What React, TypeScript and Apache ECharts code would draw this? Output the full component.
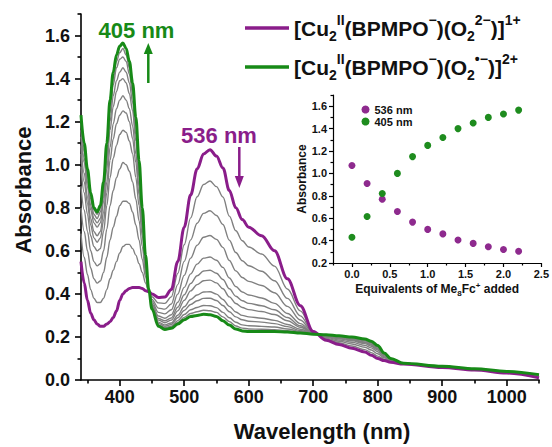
import React, { useEffect, useRef } from "react";
import * as echarts from "echarts";

const FONT = '"Liberation Sans", Arial, Helvetica, sans-serif';
const PURPLE = "#8A1D8A";
const GREEN = "#178A17";
const GRAY = "#808080";

// Wavelength grid (nm)
const wavelengthNm = [
  340, 345, 350, 355, 360, 365, 370, 375, 380, 385, 390, 395, 400, 405, 410, 415, 420, 425, 430, 435, 440, 445, 450,
  460, 470, 480, 490, 500, 510, 520, 530, 540, 550, 560, 570, 580, 590, 600,
  620, 640, 660, 680, 700, 720, 740, 760, 780,
  790, 800, 810, 820, 840,
  900, 950, 1000, 1050,
];

// Spectra after each addition of Me8Fc+ (equivalents 0.0 ... 2.2)
const absEq00 = [
  0.55, 0.45, 0.37, 0.31, 0.28, 0.26, 0.25, 0.25, 0.26, 0.27, 0.29, 0.32, 0.37, 0.40, 0.415, 0.425, 0.43, 0.43, 0.43, 0.425, 0.415, 0.41, 0.40,
  0.383, 0.385, 0.42, 0.55, 0.71, 0.86, 0.98, 1.05, 1.07, 1.04, 0.985, 0.88, 0.80, 0.745, 0.71,
  0.67, 0.60, 0.47, 0.345, 0.225, 0.185, 0.165, 0.148, 0.13,
  0.115, 0.10, 0.09, 0.082, 0.074,
  0.058, 0.046, 0.032, 0.01,
];
const absEq02 = [
  0.68, 0.57, 0.49, 0.42, 0.38, 0.36, 0.36, 0.38, 0.42, 0.47, 0.51, 0.55, 0.59, 0.62, 0.63, 0.63, 0.61, 0.58, 0.54, 0.50, 0.45, 0.41, 0.387,
  0.358, 0.356, 0.386, 0.495, 0.628, 0.753, 0.851, 0.908, 0.924, 0.898, 0.85, 0.761, 0.693, 0.647, 0.618,
  0.585, 0.529, 0.423, 0.321, 0.223, 0.19, 0.173, 0.158, 0.141,
  0.127, 0.111, 0.097, 0.085, 0.075,
  0.059, 0.047, 0.034, 0.013,
];
const absEq04 = [
  0.80, 0.69, 0.60, 0.52, 0.47, 0.45, 0.46, 0.50, 0.57, 0.65, 0.71, 0.76, 0.81, 0.83, 0.83, 0.82, 0.78, 0.72, 0.65, 0.56, 0.48, 0.41, 0.374,
  0.334, 0.329, 0.353, 0.443, 0.551, 0.651, 0.728, 0.774, 0.786, 0.764, 0.722, 0.649, 0.592, 0.554, 0.531,
  0.505, 0.461, 0.379, 0.298, 0.221, 0.194, 0.18, 0.167, 0.152,
  0.139, 0.122, 0.103, 0.089, 0.075,
  0.06, 0.048, 0.035, 0.016,
];
const absEq06 = [
  0.90, 0.79, 0.69, 0.60, 0.55, 0.53, 0.54, 0.60, 0.70, 0.81, 0.88, 0.94, 0.98, 1.01, 1.00, 0.97, 0.92, 0.84, 0.74, 0.62, 0.50, 0.42, 0.364,
  0.314, 0.307, 0.326, 0.399, 0.486, 0.566, 0.626, 0.663, 0.671, 0.653, 0.616, 0.555, 0.507, 0.476, 0.458,
  0.439, 0.405, 0.342, 0.279, 0.219, 0.198, 0.186, 0.175, 0.161,
  0.149, 0.131, 0.108, 0.091, 0.076,
  0.061, 0.049, 0.036, 0.018,
];
const absEq08 = [
  0.99, 0.87, 0.77, 0.67, 0.62, 0.60, 0.61, 0.69, 0.81, 0.94, 1.03, 1.09, 1.14, 1.16, 1.15, 1.11, 1.05, 0.94, 0.81, 0.67, 0.52, 0.42, 0.354,
  0.297, 0.287, 0.303, 0.361, 0.43, 0.493, 0.538, 0.566, 0.571, 0.556, 0.523, 0.474, 0.434, 0.409, 0.395,
  0.381, 0.356, 0.309, 0.262, 0.217, 0.201, 0.191, 0.182, 0.169,
  0.157, 0.139, 0.113, 0.094, 0.077,
  0.062, 0.05, 0.037, 0.02,
];
const absEq10 = [
  1.05, 0.92, 0.82, 0.72, 0.66, 0.64, 0.66, 0.74, 0.87, 1.02, 1.12, 1.19, 1.23, 1.25, 1.24, 1.20, 1.12, 1.01, 0.86, 0.70, 0.54, 0.42, 0.349,
  0.286, 0.275, 0.288, 0.338, 0.396, 0.448, 0.484, 0.506, 0.51, 0.496, 0.467, 0.424, 0.389, 0.368, 0.356,
  0.345, 0.326, 0.29, 0.252, 0.216, 0.203, 0.194, 0.186, 0.174,
  0.162, 0.144, 0.116, 0.095, 0.077,
  0.062, 0.05, 0.038, 0.021,
];
const absEq12 = [
  1.09, 0.96, 0.85, 0.75, 0.69, 0.67, 0.69, 0.78, 0.92, 1.08, 1.19, 1.26, 1.30, 1.32, 1.30, 1.26, 1.18, 1.05, 0.90, 0.72, 0.55, 0.42, 0.345,
  0.278, 0.266, 0.278, 0.321, 0.37, 0.414, 0.443, 0.461, 0.464, 0.451, 0.424, 0.386, 0.355, 0.337, 0.327,
  0.318, 0.304, 0.275, 0.245, 0.216, 0.205, 0.197, 0.189, 0.177,
  0.166, 0.147, 0.118, 0.096, 0.077,
  0.063, 0.051, 0.038, 0.022,
];
const absEq14 = [
  1.13, 1.01, 0.90, 0.79, 0.73, 0.71, 0.73, 0.83, 0.98, 1.16, 1.27, 1.34, 1.39, 1.40, 1.38, 1.33, 1.25, 1.11, 0.94, 0.75, 0.56, 0.42, 0.34,
  0.269, 0.256, 0.265, 0.301, 0.34, 0.374, 0.395, 0.409, 0.41, 0.399, 0.374, 0.342, 0.316, 0.30, 0.293,
  0.287, 0.277, 0.258, 0.236, 0.215, 0.207, 0.199, 0.193, 0.182,
  0.171, 0.152, 0.12, 0.097, 0.077,
  0.063, 0.051, 0.039, 0.023,
];
const absEq16 = [
  1.16, 1.03, 0.92, 0.81, 0.75, 0.73, 0.75, 0.85, 1.02, 1.20, 1.32, 1.39, 1.43, 1.45, 1.43, 1.38, 1.29, 1.14, 0.96, 0.76, 0.56, 0.42, 0.337,
  0.263, 0.25, 0.258, 0.289, 0.323, 0.351, 0.368, 0.379, 0.38, 0.369, 0.346, 0.317, 0.293, 0.28, 0.273,
  0.269, 0.262, 0.248, 0.23, 0.214, 0.208, 0.201, 0.195, 0.184,
  0.174, 0.154, 0.122, 0.098, 0.078,
  0.063, 0.051, 0.039, 0.024,
];
const absEq18 = [
  1.19, 1.06, 0.95, 0.84, 0.77, 0.75, 0.78, 0.88, 1.05, 1.24, 1.37, 1.45, 1.49, 1.50, 1.48, 1.42, 1.33, 1.18, 0.99, 0.78, 0.57, 0.42, 0.334,
  0.257, 0.243, 0.25, 0.276, 0.304, 0.326, 0.337, 0.346, 0.345, 0.336, 0.314, 0.289, 0.268, 0.256, 0.252,
  0.249, 0.246, 0.237, 0.225, 0.214, 0.209, 0.203, 0.197, 0.187,
  0.176, 0.157, 0.123, 0.099, 0.078,
  0.064, 0.052, 0.04, 0.024,
];
const absEq20 = [
  1.21, 1.08, 0.97, 0.86, 0.79, 0.77, 0.80, 0.90, 1.08, 1.27, 1.40, 1.48, 1.52, 1.54, 1.51, 1.45, 1.36, 1.20, 1.01, 0.79, 0.58, 0.42, 0.332,
  0.253, 0.239, 0.245, 0.267, 0.291, 0.309, 0.317, 0.324, 0.322, 0.314, 0.293, 0.271, 0.251, 0.241, 0.237,
  0.236, 0.234, 0.229, 0.221, 0.213, 0.209, 0.204, 0.199, 0.189,
  0.178, 0.159, 0.124, 0.10, 0.078,
  0.064, 0.052, 0.04, 0.025,
];
const absEq22 = [
  1.23, 1.10, 0.98, 0.87, 0.80, 0.78, 0.81, 0.92, 1.10, 1.30, 1.43, 1.51, 1.55, 1.565, 1.54, 1.48, 1.38, 1.22, 1.02, 0.80, 0.58, 0.42, 0.33,
  0.25, 0.235, 0.24, 0.26, 0.28, 0.295, 0.30, 0.305, 0.303, 0.295, 0.275, 0.255, 0.237, 0.228, 0.225,
  0.225, 0.225, 0.223, 0.218, 0.213, 0.21, 0.205, 0.20, 0.19,
  0.18, 0.16, 0.125, 0.10, 0.078,
  0.064, 0.052, 0.04, 0.025,
];
const intermediateSpectra = [absEq02, absEq04, absEq06, absEq08, absEq10, absEq12, absEq14, absEq16, absEq18, absEq20];

// Inset: absorbance vs equivalents
const equivalentsAdded = [0, 0.2, 0.4, 0.6, 0.8, 1.0, 1.2, 1.4, 1.6, 1.8, 2.0, 2.2];
const abs536 = [1.07, 0.91, 0.77, 0.66, 0.565, 0.5, 0.46, 0.405, 0.375, 0.345, 0.32, 0.305];
const abs405 = [0.43, 0.615, 0.82, 1.0, 1.15, 1.25, 1.32, 1.4, 1.45, 1.5, 1.53, 1.565];

// Tick values
const mainXMajor = [400, 500, 600, 700, 800, 900, 1000];
const mainXMinor = [350, 450, 550, 650, 750, 850, 950, 1050];
const mainYMajor = [0, 0.2, 0.4, 0.6, 0.8, 1.0, 1.2, 1.4, 1.6];
const mainYMinor = [0.1, 0.3, 0.5, 0.7, 0.9, 1.1, 1.3, 1.5, 1.7];
const insetXMajor = [0, 0.5, 1.0, 1.5, 2.0, 2.5];
const insetXMinor = [-0.25, 0.25, 0.75, 1.25, 1.75, 2.25];
const insetYMajor = [0.2, 0.4, 0.6, 0.8, 1.0, 1.2, 1.4, 1.6];
const insetYMinor = [0.3, 0.5, 0.7, 0.9, 1.1, 1.3, 1.5, 1.7];

const PURPLE_NAME = "[Cu2II(BPMPO−)(O22−)]1+";
const GREEN_NAME = "[Cu2II(BPMPO−)(O2•−)]2+";
const legendRichText: Record<string, string> = {
  [PURPLE_NAME]: "{m|[Cu}{b|2}{p|II}{m|(BPMPO}{p|−}{m|)(O}{b|2}{p|2−}{m|)]}{p|1+}",
  [GREEN_NAME]: "{m|[Cu}{b|2}{p|II}{m|(BPMPO}{p|−}{m|)(O}{b|2}{p|•−}{m|)]}{p|2+}",
};

function axisPair(
  dim: "x" | "y",
  gridIndex: number,
  min: number,
  max: number,
  major: number[],
  minor: number[],
  o: {
    majorLen: number;
    minorLen: number;
    lineWidth: number;
    labelSize: number;
    labelMargin: number;
    digits: number;
    name?: string;
    nameGap?: number;
    nameStyle?: any;
  }
) {
  const position = dim === "x" ? "bottom" : "left";
  const lineStyle = { color: "#000", width: o.lineWidth };
  const majorAxis: any = {
    type: "value",
    gridIndex,
    min,
    max,
    position,
    offset: 0,
    axisLine: { show: true, onZero: false, lineStyle },
    axisTick: { show: true, customValues: major, length: o.majorLen, lineStyle },
    axisLabel: {
      customValues: major,
      formatter: (v: number) => v.toFixed(o.digits),
      fontSize: o.labelSize,
      fontWeight: "bold",
      fontFamily: FONT,
      color: "#111",
      margin: o.labelMargin,
    },
    splitLine: { show: false },
    minorTick: { show: false },
  };
  if (o.name) {
    majorAxis.name = o.name;
    majorAxis.nameLocation = "middle";
    majorAxis.nameGap = o.nameGap;
    majorAxis.nameTextStyle = o.nameStyle;
  }
  const minorAxis: any = {
    type: "value",
    gridIndex,
    min,
    max,
    position,
    offset: 0,
    axisLine: { show: false, onZero: false },
    axisTick: { show: true, customValues: minor, length: o.minorLen, lineStyle },
    axisLabel: { show: false },
    splitLine: { show: false },
  };
  return [majorAxis, minorAxis];
}

export default function App() {
  const ref = useRef<HTMLDivElement>(null);

  useEffect(() => {
    if (!ref.current) return;
    const chart = echarts.init(ref.current, null, { renderer: "svg" });

    const toPairs = (ys: number[]) => wavelengthNm.map((w, i) => [w, ys[i]]);

    const grayLines = intermediateSpectra.map((ys, k) => ({
      type: "line",
      name: "step" + (k + 1),
      xAxisIndex: 0,
      yAxisIndex: 0,
      data: toPairs(ys),
      showSymbol: false,
      smooth: 0.35,
      smoothMonotone: "x",
      lineStyle: { color: GRAY, width: 1.4 },
      itemStyle: { color: GRAY },
      z: 2,
      silent: true,
    }));

    const mainX = axisPair("x", 0, 340, 1050, mainXMajor, mainXMinor, {
      majorLen: 6,
      minorLen: 3.5,
      lineWidth: 1.6,
      labelSize: 18,
      labelMargin: 8,
      digits: 0,
      name: "Wavelength (nm)",
      nameGap: 40,
      nameStyle: { fontSize: 22, fontWeight: "bold", fontFamily: FONT, color: "#111", padding: [0, 0, 0, 24] },
    });
    const mainY = axisPair("y", 0, 0, 1.7, mainYMajor, mainYMinor, {
      majorLen: 6,
      minorLen: 3.5,
      lineWidth: 1.6,
      labelSize: 18,
      labelMargin: 11,
      digits: 1,
      name: "Absorbance",
      nameGap: 47,
      nameStyle: { fontSize: 22, fontWeight: "bold", fontFamily: FONT, color: "#111", padding: [0, 0, 0, 14] },
    });
    const insetX = axisPair("x", 1, -0.25, 2.5, insetXMajor, insetXMinor, {
      majorLen: 4,
      minorLen: 2.5,
      lineWidth: 1.2,
      labelSize: 11,
      labelMargin: 5,
      digits: 1,
      name: "Equivalents of Me8Fc+ added",
      nameGap: 18,
      nameStyle: {
        fontSize: 12,
        fontWeight: "bold",
        fontFamily: FONT,
        color: "#111",
        rich: {
          n: { fontSize: 12, fontWeight: "bold", fontFamily: FONT, color: "#111", lineHeight: 16 },
          s: { fontSize: 8, fontWeight: "bold", fontFamily: FONT, color: "#111", lineHeight: 9, verticalAlign: "bottom" },
          u: { fontSize: 8, fontWeight: "bold", fontFamily: FONT, color: "#111", lineHeight: 9, verticalAlign: "top" },
        },
      },
    });
    insetX[0].name = "{n|Equivalents of Me}{s|8}{n|Fc}{u|+}{n| added}";
    const insetY = axisPair("y", 1, 0.2, 1.7, insetYMajor, insetYMinor, {
      majorLen: 4,
      minorLen: 2.5,
      lineWidth: 1.2,
      labelSize: 11,
      labelMargin: 6,
      digits: 1,
      name: "Absorbance",
      nameGap: 21,
      nameStyle: { fontSize: 12, fontWeight: "bold", fontFamily: FONT, color: "#111" },
    });

    const legendRich = {
      m: { fontSize: 21, fontWeight: "bold", fontFamily: FONT, color: "#111", lineHeight: 30 },
      b: { fontSize: 14, fontWeight: "bold", fontFamily: FONT, color: "#111", lineHeight: 16, verticalAlign: "bottom" },
      p: { fontSize: 14, fontWeight: "bold", fontFamily: FONT, color: "#111", lineHeight: 16, verticalAlign: "top" },
    };

    const option: any = {
      animation: false,
      backgroundColor: "#ffffff",
      grid: [
        { left: 81, top: 14, right: 13, bottom: 66.5 },
        { left: 333, top: 95, right: 6, bottom: 184 },
      ],
      xAxis: [...mainX, ...insetX],
      yAxis: [...mainY, ...insetY],
      legend: [
        {
          data: [PURPLE_NAME, GREEN_NAME],
          orient: "vertical",
          left: 240,
          top: 8,
          icon: "rect",
          itemWidth: 44,
          itemHeight: 3.5,
          itemGap: 9,
          selectedMode: false,
          formatter: (name: string) => legendRichText[name],
          textStyle: { rich: legendRich },
        },
        {
          data: ["536 nm", "405 nm"],
          orient: "vertical",
          left: 356.5,
          top: 98,
          icon: "circle",
          itemWidth: 8,
          itemHeight: 8,
          itemGap: -1,
          selectedMode: false,
          textStyle: { fontSize: 11, fontWeight: "bold", fontFamily: FONT, color: "#111", lineHeight: 13 },
        },
      ],
      series: [
        ...grayLines,
        {
          type: "line",
          name: PURPLE_NAME,
          xAxisIndex: 0,
          yAxisIndex: 0,
          data: toPairs(absEq00),
          showSymbol: false,
          smooth: 0.35,
          smoothMonotone: "x",
          lineStyle: { color: PURPLE, width: 3 },
          itemStyle: { color: PURPLE },
          z: 3,
        },
        {
          type: "line",
          name: GREEN_NAME,
          xAxisIndex: 0,
          yAxisIndex: 0,
          data: toPairs(absEq22),
          showSymbol: false,
          smooth: 0.35,
          smoothMonotone: "x",
          lineStyle: { color: GREEN, width: 3 },
          itemStyle: { color: GREEN },
          z: 4,
        },
        {
          type: "scatter",
          name: "536 nm",
          xAxisIndex: 2,
          yAxisIndex: 2,
          data: equivalentsAdded.map((e, i) => [e, abs536[i]]),
          symbolSize: 7,
          itemStyle: { color: "#8E2A8E", opacity: 1 },
        },
        {
          type: "scatter",
          name: "405 nm",
          xAxisIndex: 2,
          yAxisIndex: 2,
          data: equivalentsAdded.map((e, i) => [e, abs405[i]]),
          symbolSize: 7,
          itemStyle: { color: "#1E8C1E", opacity: 1 },
        },
      ],
      graphic: [
        {
          type: "text",
          x: 136.5,
          y: 30,
          style: { text: "405 nm", fontSize: 22, fontWeight: "bold", fontFamily: FONT, fill: GREEN, align: "center", verticalAlign: "middle" },
        },
        { type: "line", shape: { x1: 148.3, y1: 83, x2: 148.3, y2: 52 }, style: { stroke: GREEN, lineWidth: 2.5 } },
        { type: "polygon", shape: { points: [[143.8, 54], [152.8, 54], [148.3, 43]] }, style: { fill: GREEN } },
        {
          type: "text",
          x: 219,
          y: 135,
          style: { text: "536 nm", fontSize: 22, fontWeight: "bold", fontFamily: FONT, fill: PURPLE, align: "center", verticalAlign: "middle" },
        },
        { type: "line", shape: { x1: 239.3, y1: 147, x2: 239.3, y2: 178 }, style: { stroke: PURPLE, lineWidth: 2.5 } },
        { type: "polygon", shape: { points: [[234.8, 176], [243.8, 176], [239.3, 188]] }, style: { fill: PURPLE } },
      ],
    };

    chart.setOption(option);
    return () => chart.dispose();
  }, []);

  return (
    <div
      ref={ref}
      style={{ position: "absolute", left: 0, top: 0, width: 552, height: 447, background: "#fff" }}
    />
  );
}
